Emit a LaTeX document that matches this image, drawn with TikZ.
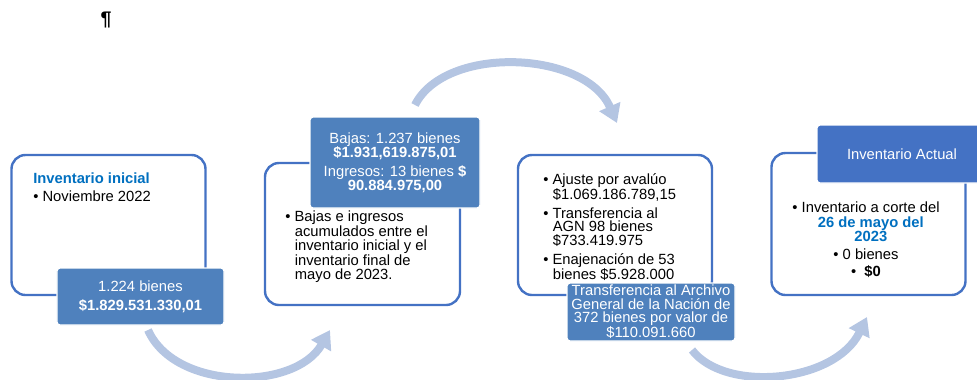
\documentclass[tikz,border=0pt]{standalone}
\usepackage{fontspec}
\setmainfont{Liberation Sans}
\usepackage{tikz}
\usepackage{xcolor}
\usetikzlibrary{arrows.meta}

\definecolor{boxblue}{RGB}{68,114,196}
\definecolor{tagblue}{RGB}{79,129,189}
\definecolor{textblue}{RGB}{0,112,192}
\definecolor{arrowblue}{RGB}{180,197,226}

\tikzstyle{frame} = [rectangle, draw=boxblue, line width=0.6mm, rounded corners=3.5mm, fill=white, minimum width=48.5mm, minimum height=35mm]
\tikzstyle{tag} = [rectangle, draw=white, line width=0.3mm, fill=tagblue, rounded corners=0.8mm, text=white, align=center, inner sep=0pt, font=\fontsize{10.5}{10}\selectfont]
\tikzstyle{txt} = [align=left, inner sep=0pt, anchor=north west, font=\fontsize{10.5}{10.2}\selectfont]
\tikzstyle{flow} = [draw=arrowblue, line width=2mm, -{Triangle[length=4.5mm,width=5.5mm]}]

\newcommand{\indnt}{\hspace*{2.4mm}}

\begin{document}
\begin{tikzpicture}[x=0.25mm,y=-0.25mm]
  \useasboundingbox (0,0) rectangle (977,379);

  \node[font=\fontsize{14}{14}\selectfont\bfseries] (pilcrow) at (106,20) {¶};

  % curved arrows from step to step
  \coordinate (a1s) at (148,330);
  \coordinate (a1e) at (330,330);
  \coordinate (a2s) at (415,105);
  \coordinate (a2e) at (617,123);
  \coordinate (a3s) at (692,350);
  \coordinate (a3e) at (867,317);
  \path[flow] (a1s) .. controls (175,391) and (295,391) .. (a1e);
  \path[flow] (a2s) .. controls (445,45) and (585,50) .. (a2e);
  \path[flow] (a3s) .. controls (725,393) and (835,383) .. (a3e);

  % frames
  \node[frame] (init) at (108.5,225) {};
  \node[frame, minimum width=48.75mm, minimum height=35.5mm] (moves) at (362.5,234) {};
  \node[frame] (detail) at (615,225) {};
  \node[frame, minimum height=35.5mm] (actual) at (868.5,224) {};

  % texts in the frames
  \node[txt] (inittxt) at (33,173) {\textcolor{textblue}{\textbf{Inventario inicial}}\\[0.8mm]• Noviembre 2022};
  \node[txt] (movestxt) at (285,211) {• Bajas e ingresos\\\indnt acumulados entre el\\\indnt inventario inicial y el\\\indnt inventario final de\\\indnt mayo de 2023.};
  \node[txt, font=\fontsize{10.5}{9.8}\selectfont] (detailtxt) at (543,173) {• Ajuste por avalúo\\\indnt\$1.069.186.789,15\\[1.2mm]• Transferencia al\\\indnt AGN 98 bienes\\\indnt\$733.419.975\\[1.2mm]• Enajenación de 53\\\indnt bienes \$5.928.000};
  \node[txt, align=center, anchor=center] (actualtxt) at (866,240) {• Inventario a corte del\\\indnt\textcolor{textblue}{\textbf{26 de mayo del}}\\\indnt\textcolor{textblue}{\textbf{2023}}\\[0.8mm]• 0 bienes\\[0.8mm]•\ \ \textbf{\$0}};

  % blue tags
  \node[tag, minimum width=41.75mm, minimum height=14.25mm] (initval) at (140.5,296.5) {1.224 bienes\\[1.2mm]\textbf{\$1.829.531.330,01}};
  \node[tag, minimum width=42.5mm, minimum height=22.75mm] (movesval) at (395,162.5) {Bajas: 1.237 bienes\\\textbf{\$1.931,619.875,01}\\[1.2mm]Ingresos: 13 bienes \textbf{\$}\\\textbf{90.884.975,00}};
  \node[tag, minimum width=42mm, minimum height=14.5mm, font=\fontsize{10.5}{9.5}\selectfont] (agn) at (651,312) {Transferencia al Archivo\\General de la Nación de\\372 bienes por valor de\\\$110.091.660};
  \node[tag, fill=boxblue, minimum width=42.5mm, minimum height=14.5mm] (actualval) at (902,154) {Inventario Actual};
\end{tikzpicture}
\end{document}
